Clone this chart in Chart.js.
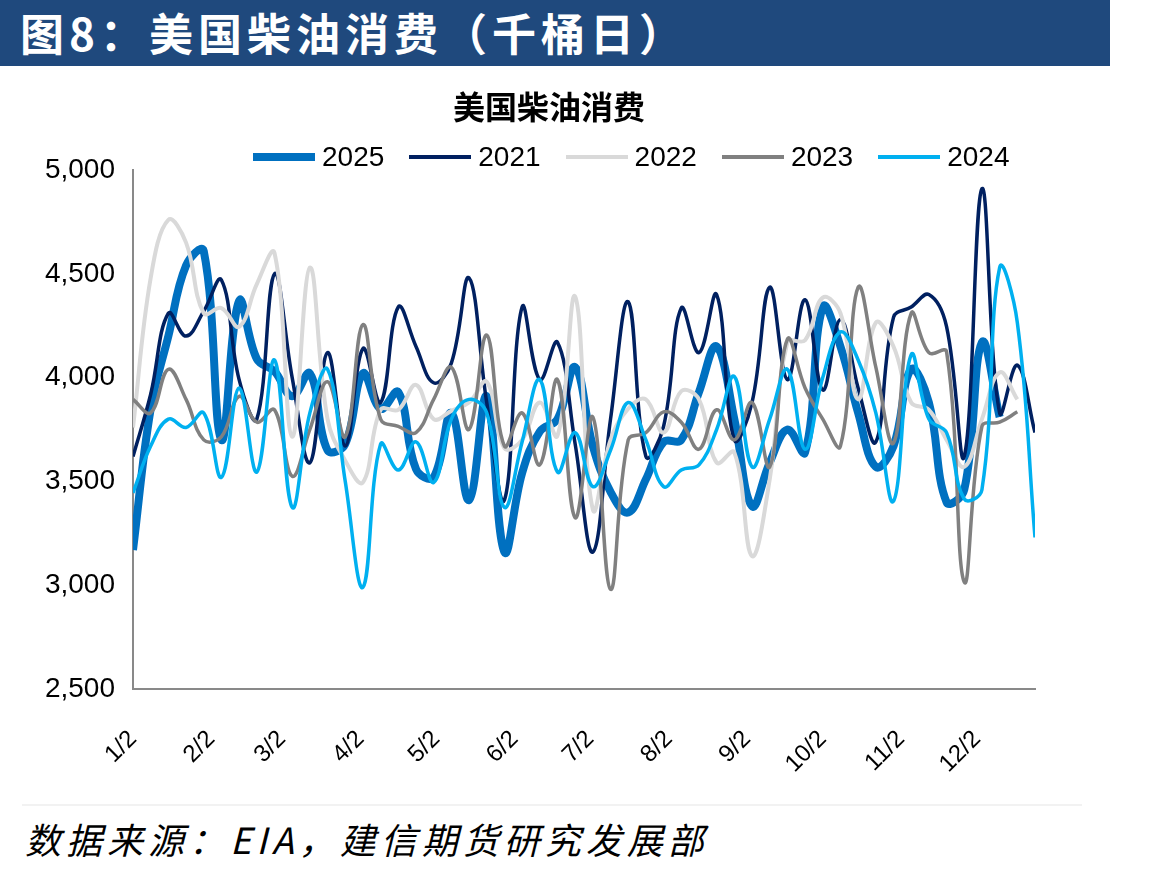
<!DOCTYPE html>
<html>
<head>
<meta charset="utf-8">
<script src="https://cdn.jsdelivr.net/npm/chart.js@4.4.1/dist/chart.umd.min.js"></script>
<style>
  body { margin: 0; background: #fff; width: 1175px; height: 874px; position: relative; overflow: hidden; font-family: 'Noto Sans CJK SC', sans-serif; }
  #banner { position: absolute; left: 0; top: 0; width: 1110px; height: 66px; background: #1F497D; }
  #banner span { position: absolute; left: 20px; top: 4px; color: #fff; font-size: 44px; font-weight: bold; letter-spacing: 5px; line-height: 56px; }
  #wrap { position: absolute; left: 0; top: 66px; width: 1100px; height: 740px; }
  #title { position: absolute; left: 349px; width: 400px; top: 82px; text-align: center; font-size: 32px; font-weight: bold; line-height: 46px; color: #000; }
  #legend { position: absolute; left: 253px; top: 137px; display: flex; align-items: center; height: 40px; }
  #legend .item { display: flex; align-items: center; margin-right: 25px; }
  #legend .item i { display: block; width: 62px; margin-right: 7px; }
  #legend .item span { font-size: 28px; font-family: 'Liberation Sans', Arial, sans-serif; color: #000; }
  #rule { position: absolute; left: 22px; top: 804px; width: 1060px; height: 2px; background: #f2f2f2; }
  #source { position: absolute; left: 25px; top: 812px; font-size: 36px; font-style: italic; letter-spacing: 5px; color: #000; }
</style>
</head>
<body>
<div id="banner"><span>图8：美国柴油消费（千桶日）</span></div>
<div id="wrap"><canvas id="chart" width="1100" height="740"></canvas></div>
<div id="title">美国柴油消费</div>
<div id="legend"></div>
<div id="rule"></div>
<div id="source">数据来源：EIA，建信期货研究发展部</div>
<script>
// x axis: days since 1/2, one point per week
const weekStep = 7;
const tickDays = [0, 31, 59, 90, 120, 151, 181, 212, 243, 273, 304, 334];
const tickLabels = ['1/2', '2/2', '3/2', '4/2', '5/2', '6/2', '7/2', '8/2', '9/2', '10/2', '11/2', '12/2'];
const yTicks = [2500, 3000, 3500, 4000, 4500, 5000];

const seriesNames = ['2025', '2021', '2022', '2023', '2024'];

const v2025 = [3170, 3850, 4200, 4540, 4610, 3700, 4370, 4090, 4030, 3910, 4020, 3650, 3680, 4020, 3850, 3930, 3560, 3520, 3830, 3410,
  3910, 3160, 3540, 3740, 3800, 4050, 3670, 3450, 3350, 3510, 3690, 3700, 3930, 4150, 3800, 3380, 3590, 3750, 3640, 4340,
  4150, 3830, 3570, 3670, 4040, 3880, 3400, 3460, 4170, 3810];
const v2021 = [3620, 3920, 4310, 4200, 4320, 4470, 3990, 3800, 4500, 4000, 3590, 4120, 3670, 4140, 3880, 4340, 4150, 3975, 4070, 4480,
  3880, 3410, 4340, 3990, 4170, 3680, 3160, 3800, 4365, 3620, 3765, 4335, 4120, 4400, 3700, 3880, 4435, 3990, 4375, 3940,
  4280, 3950, 3690, 4290, 4340, 4400, 4245, 3620, 4910, 3830, 4060, 3735];
const v2022 = [3760, 4480, 4760, 4650, 4310, 4335, 4245, 4450, 4600, 3715, 4530, 3800, 3600, 3495, 3845, 3845, 3965, 3800, 3840, 3880,
  3980, 3660, 3700, 3880, 3720, 4390, 3365, 3700, 3850, 3895, 3735, 3935, 3895, 3590, 3640, 3140, 3510, 4170, 4180, 4385,
  4310, 3895, 4265, 4150, 3880, 3845, 3700, 3570, 3800, 4025, 3895];
const v2023 = [3895, 3830, 4040, 3895, 3700, 3715, 3910, 3785, 3845, 3525, 3750, 3980, 3715, 4255, 3800, 3765, 3735, 3895, 4050, 3750,
  4205, 3670, 3830, 3580, 3990, 3325, 3810, 2980, 3700, 3735, 3835, 3785, 3655, 3845, 3700, 3880, 3570, 4185, 3950, 3800,
  3670, 4435, 4050, 3685, 4310, 4120, 4125, 3015, 3765, 3785, 3835];
const v2024 = [3445, 3670, 3800, 3760, 3830, 3520, 3950, 3545, 4085, 3375, 3830, 4040, 3500, 2990, 3680, 3555, 3690, 3495, 3800, 3895,
  3830, 3375, 3690, 3990, 3545, 3735, 3475, 3650, 3880, 3700, 3475, 3555, 3580, 3750, 4005, 3570, 3800, 4040, 3655, 4000,
  4220, 4085, 3830, 3405, 4110, 3800, 3735, 3415, 3460, 4530, 4265, 3230];

const seriesValues = [v2025, v2021, v2022, v2023, v2024];
const lineColors = ['#0070C0', '#002060', '#D9D9D9', '#808080', '#00B0F0'];
const lineWidths = [8, 3.5, 4, 3.5, 3.5];

const latin = "'Liberation Sans', Arial, sans-serif";

const datasets = seriesNames.map((name, i) => ({
  label: name,
  data: seriesValues[i].map((v, k) => ({ x: k * weekStep, y: v })),
  borderColor: lineColors[i],
  backgroundColor: lineColors[i],
  borderWidth: lineWidths[i],
  pointRadius: 0,
  tension: 0.4,
  fill: false,
  order: seriesNames.length - i   // later series drawn on top, like the source
}));

// legend in html so the line samples can sit tight against the text
const legendBox = document.getElementById('legend');
seriesNames.forEach((name, i) => {
  legendBox.innerHTML += `<div class="item"><i style="height:${Math.round(lineWidths[i])}px;background:${lineColors[i]}"></i><span>${name}</span></div>`;
});

new Chart(document.getElementById('chart'), {
  type: 'line',
  data: { datasets },
  options: {
    responsive: false,
    animation: false,
    layout: { padding: { left: 0, right: 65, top: 104, bottom: 0 } },
    plugins: {
      legend: { display: false },
      tooltip: { enabled: false }
    },
    scales: {
      x: {
        type: 'linear',
        min: 0,
        max: 51 * weekStep,
        grid: { display: false, drawTicks: false },
        border: { display: true, color: '#898989', width: 2 },
        afterBuildTicks: s => { s.ticks = tickDays.map(d => ({ value: d })); },
        afterFit: s => { s.height = 117; },
        ticks: {
          autoSkip: false,
          minRotation: 45,
          maxRotation: 45,
          padding: 36,
          color: '#000',
          font: { size: 24, family: latin },
          callback: v => tickLabels[tickDays.indexOf(v)]
        }
      },
      y: {
        min: 2500,
        max: 5000,
        grid: { display: false, drawTicks: false },
        border: { display: true, color: '#898989', width: 2 },
        afterBuildTicks: s => { s.ticks = yTicks.map(v => ({ value: v })); },
        afterFit: s => { s.width = 133; },
        ticks: {
          padding: 18,
          color: '#000',
          font: { size: 28, family: latin },
          callback: v => v.toLocaleString('en-US')
        }
      }
    }
  }
});
</script>
</body>
</html>
